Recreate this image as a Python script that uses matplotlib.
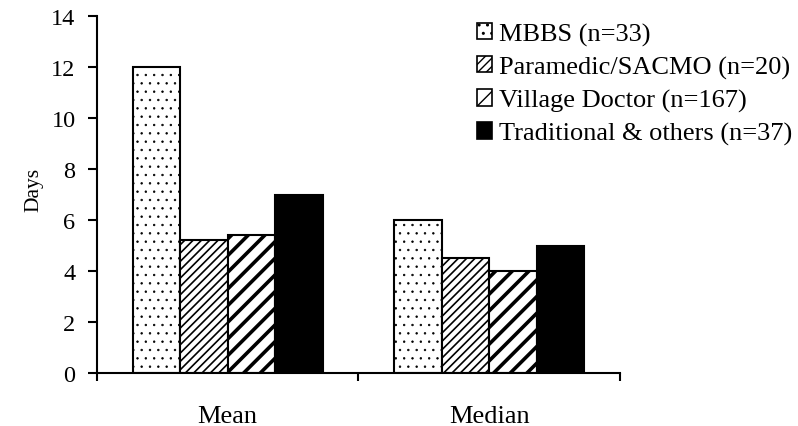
import numpy as np
import matplotlib.pyplot as plt

plt.rcParams['font.family'] = 'Liberation Serif'

groups = ['Mean', 'Median']
providers = ['MBBS (n=33)', 'Paramedic/SACMO (n=20)',
             'Village Doctor (n=167)', 'Traditional & others (n=37)']
days = {
    'MBBS (n=33)': [12.0, 6.0],
    'Paramedic/SACMO (n=20)': [5.2, 4.5],
    'Village Doctor (n=167)': [5.4, 4.0],
    'Traditional & others (n=37)': [7.0, 5.0],
}

# fill style per provider: (facecolor, hatch, hatch linewidth)
styles = [('white', '..', 0.5),
          ('white', '////', 1.2),
          ('white', '//', 2.6),
          ('black', None, 1.0)]

fig = plt.figure(figsize=(7.98, 4.27), dpi=100)
ax = fig.add_axes([0.1216, 0.124, 0.655, 0.836])

x = np.arange(len(groups)) + 0.5
w = 0.1816
for i, name in enumerate(providers):
    fc, hatch, hlw = styles[i]
    bars = ax.bar(x + (i - 1.5) * w, days[name], width=w, color=fc,
                  edgecolor='black', linewidth=1.5, hatch=hatch, label=name)
    for b in bars:
        if hasattr(b, 'set_hatch_linewidth'):
            b.set_hatch_linewidth(hlw)

ax.set_xlim(0, 2)
ax.set_ylim(0, 14)
ax.set_yticks(range(0, 15, 2))
ax.set_xticks(x)
ax.set_xticklabels(groups)
ax.set_xticks([0, 1, 2], minor=True)
ax.tick_params(axis='x', which='major', length=0, pad=23, labelsize=19)
ax.tick_params(axis='x', which='minor', length=6, width=1.5, direction='out')
ax.tick_params(axis='y', length=6.5, width=1.5, labelsize=17.5, pad=9)
for s in ['top', 'right']:
    ax.spines[s].set_visible(False)
for s in ['left', 'bottom']:
    ax.spines[s].set_linewidth(1.5)

ax.set_ylabel('Days', fontsize=15.5)
ax.yaxis.set_label_coords(-0.1033, 0.515)

leg = fig.legend(loc='upper left', bbox_to_anchor=(0.585, 0.969),
                 frameon=False, fontsize=19, handlelength=0.55,
                 handleheight=0.57, handletextpad=0.26, labelspacing=0.38,
                 borderaxespad=0)
for h in leg.legend_handles:
    h.set_linewidth(1.2)

fig.savefig('out.png', dpi=100)
